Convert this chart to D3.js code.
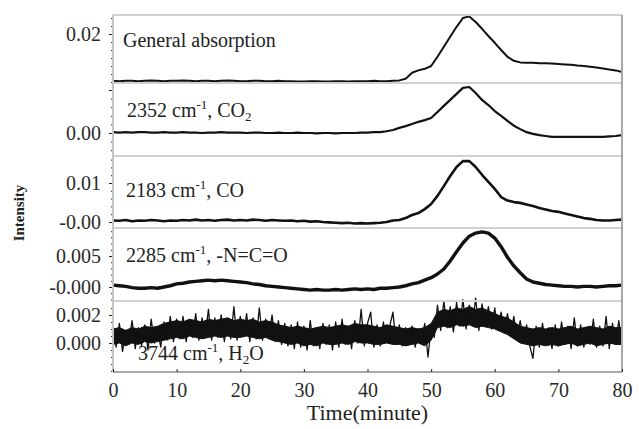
<!DOCTYPE html>
<html>
<head>
<meta charset="utf-8">
<script src="https://cdnjs.cloudflare.com/ajax/libs/d3/7.8.5/d3.min.js"></script>
<style>
body { margin: 0; background: #fff; }
svg { display: block; }
text { font-family: "Liberation Serif", "DejaVu Serif", serif; }
.tick text { fill: #2a2a2a; font-size: 20px; }
.tick line { stroke: #222; }
.domain { display: none; }
.frame { stroke: #c9c9c9; stroke-width: 2; }
.trace { fill: none; stroke: #111; stroke-linejoin: round; }
.band { fill: #111; stroke: #111; stroke-width: 1; }
.label { fill: #222; font-size: 20px; }
</style>
</head>
<body>
<svg class="chart"></svg>
<script>
// values, one per minute (h2o: one per half minute)
var timeTicks = [0, 10, 20, 30, 40, 50, 60, 70, 80];

var genAbs = [
	0.0083,0.0082,0.0083,0.0083,0.0082,0.0083,0.0084,0.0083,0.0082,0.0083,
	0.0083,0.0084,0.0083,0.0082,0.0083,0.0083,0.0082,0.0083,0.0084,0.0083,
	0.0082,0.0082,0.0083,0.0083,0.0082,0.0082,0.0083,0.0082,0.0082,0.0081,
	0.0081,0.0082,0.0082,0.0081,0.0081,0.0082,0.0082,0.0081,0.0082,0.0082,
	0.0082,0.0083,0.0082,0.0082,0.0083,0.0084,0.0088,0.0103,0.0109,0.0113,
	0.0120,0.0143,0.0168,0.0193,0.0218,0.0240,0.0244,0.0230,0.0213,0.0195,
	0.0178,0.0160,0.0143,0.0133,0.0129,0.0128,0.0128,0.0127,0.0127,0.0126,
	0.0125,0.0124,0.0123,0.0121,0.0120,0.0118,0.0116,0.0114,0.0111,0.0109,
	0.0105];

var co2 = [
	0.0002,0.0001,0.0002,0.0001,0.0002,0.0002,0.0001,0.0001,0.0002,0.0001,
	0.0001,0.0002,0.0001,0.0001,0.0000,0.0001,0.0001,0.0002,0.0001,0.0001,
	0.0001,0.0000,0.0001,0.0001,0.0000,0.0000,0.0001,0.0000,0.0000,0.0001,
	0.0000,0.0000,-0.0001,0.0000,0.0000,-0.0001,0.0000,0.0000,0.0000,0.0001,
	0.0001,0.0002,0.0002,0.0004,0.0007,0.0012,0.0016,0.0021,0.0026,0.0030,
	0.0035,0.0049,0.0063,0.0077,0.0091,0.0105,0.0107,0.0093,0.0077,0.0065,
	0.0051,0.0040,0.0028,0.0017,0.0009,0.0002,-0.0002,-0.0005,-0.0007,-0.0009,
	-0.0009,-0.0009,-0.0009,-0.0009,-0.0009,-0.0009,-0.0009,-0.0009,-0.0008,-0.0007,
	-0.0005];

var co = [
	0.0004,0.0003,0.0005,0.0002,0.0004,0.0003,0.0005,0.0004,0.0002,0.0004,
	0.0003,0.0005,0.0004,0.0006,0.0004,0.0005,0.0003,0.0005,0.0006,0.0004,
	0.0005,0.0004,0.0006,0.0005,0.0003,0.0005,0.0004,0.0003,0.0004,0.0002,
	0.0003,0.0001,0.0002,0.0000,-0.0001,-0.0002,-0.0003,-0.0002,-0.0004,-0.0003,
	-0.0004,-0.0003,-0.0002,0.0000,0.0004,0.0005,0.0010,0.0018,0.0023,0.0033,
	0.0046,0.0067,0.0092,0.0118,0.0141,0.0156,0.0156,0.0141,0.0121,0.0103,
	0.0085,0.0064,0.0055,0.0051,0.0049,0.0045,0.0041,0.0036,0.0032,0.0028,
	0.0026,0.0022,0.0018,0.0014,0.0010,0.0008,0.0005,0.0004,0.0004,0.0005,
	0.0006];

var nco = [
	0.0003,0.0002,0.0001,-0.0001,-0.0002,-0.0002,-0.0001,-0.0002,0.0000,0.0002,
	0.0005,0.0006,0.0008,0.0009,0.0010,0.0011,0.0010,0.0011,0.0010,0.0009,
	0.0008,0.0007,0.0005,0.0004,0.0002,0.0001,0.0000,-0.0001,-0.0002,-0.0003,
	-0.0004,-0.0005,-0.0004,-0.0005,-0.0005,-0.0004,-0.0005,-0.0004,-0.0003,-0.0004,
	-0.0003,-0.0004,-0.0002,-0.0002,-0.0001,0.0000,0.0002,0.0005,0.0007,0.0011,
	0.0015,0.0021,0.0029,0.0042,0.0057,0.0071,0.0082,0.0087,0.0089,0.0087,
	0.0079,0.0065,0.0048,0.0034,0.0023,0.0013,0.0008,0.0006,0.0004,0.0003,
	0.0002,0.0001,0.0001,0.0000,0.0001,0.0001,0.0000,0.0001,0.0002,0.0002,
	0.0003];

// h2o spikes, one per half minute
var h2o = [
	0.0012,-0.0003,0.0014,-0.0006,0.0009,0.0001,0.0016,-0.0004,0.0011,-0.0002,
	0.0013,-0.0005,0.0017,0.0000,0.0010,-0.0003,0.0015,0.0002,0.0019,0.0001,
	0.0017,0.0003,0.0019,0.0001,0.0016,0.0004,0.0021,0.0002,0.0018,0.0005,
	0.0024,0.0002,0.0018,0.0004,0.0020,0.0001,0.0017,0.0003,0.0026,0.0002,
	0.0019,0.0005,0.0021,0.0001,0.0018,0.0003,0.0025,0.0002,0.0017,0.0004,
	0.0020,0.0001,0.0016,-0.0001,0.0014,-0.0002,0.0013,-0.0004,0.0015,-0.0003,
	0.0012,-0.0005,0.0016,-0.0002,0.0011,-0.0004,0.0014,-0.0001,0.0013,-0.0005,
	0.0015,-0.0003,0.0017,-0.0001,0.0012,-0.0004,0.0016,0.0000,0.0024,-0.0002,
	0.0014,0.0022,-0.0003,0.0013,-0.0002,0.0015,0.0001,0.0012,0.0022,-0.0001,
	0.0013,-0.0002,0.0011,0.0000,0.0012,-0.0003,0.0010,0.0001,0.0014,-0.0010,
	0.0011,0.0004,0.0027,0.0009,0.0030,0.0011,0.0026,0.0008,0.0029,0.0012,
	0.0031,0.0010,0.0027,0.0013,0.0032,0.0009,0.0028,0.0012,0.0026,0.0010,
	0.0025,0.0009,0.0022,0.0007,0.0021,0.0006,0.0019,0.0003,0.0016,0.0001,
	0.0013,-0.0002,-0.0011,0.0012,-0.0003,0.0014,0.0000,0.0011,-0.0004,0.0013,
	-0.0002,0.0015,-0.0001,0.0012,-0.0004,0.0018,-0.0002,0.0013,-0.0003,0.0011,
	-0.0001,0.0017,-0.0003,0.0012,-0.0002,0.0019,-0.0004,0.0014,-0.0001,0.0016,
	-0.0002];

// dense core of the h2o noise band, one per minute
var h2oUpper = [
	0.0010,0.0011,0.0009,0.0011,0.0010,0.0012,0.0011,0.0012,0.0014,0.0015,
	0.0016,0.0015,0.0017,0.0016,0.0015,0.0017,0.0016,0.0017,0.0018,0.0016,
	0.0017,0.0016,0.0017,0.0015,0.0016,0.0015,0.0013,0.0012,0.0011,0.0012,
	0.0011,0.0010,0.0011,0.0012,0.0011,0.0012,0.0013,0.0012,0.0014,0.0013,
	0.0013,0.0012,0.0011,0.0013,0.0012,0.0011,0.0010,0.0011,0.0010,0.0011,
	0.0014,0.0022,0.0024,0.0023,0.0025,0.0024,0.0026,0.0024,0.0025,0.0023,
	0.0021,0.0019,0.0018,0.0015,0.0012,0.0011,0.0010,0.0011,0.0010,0.0011,
	0.0010,0.0011,0.0012,0.0010,0.0011,0.0012,0.0011,0.0010,0.0012,0.0011,
	0.0011];
var h2oLower = [
	-0.0001,0.0000,-0.0002,0.0000,-0.0001,0.0001,0.0000,0.0001,0.0002,0.0003,
	0.0004,0.0003,0.0005,0.0004,0.0003,0.0004,0.0005,0.0004,0.0005,0.0004,
	0.0004,0.0005,0.0004,0.0003,0.0004,0.0002,0.0001,0.0000,-0.0001,0.0000,
	-0.0002,-0.0001,-0.0002,0.0000,-0.0001,-0.0001,0.0000,-0.0001,0.0001,0.0000,
	0.0000,-0.0001,-0.0001,0.0000,-0.0001,-0.0001,-0.0002,-0.0001,0.0000,-0.0002,
	0.0002,0.0011,0.0012,0.0011,0.0013,0.0012,0.0013,0.0011,0.0012,0.0011,
	0.0010,0.0008,0.0006,0.0003,0.0000,-0.0001,-0.0002,-0.0001,-0.0002,-0.0001,
	-0.0002,-0.0001,0.0000,-0.0002,-0.0001,0.0000,-0.0002,-0.0001,0.0000,-0.0001,
	-0.0001];

// axis settings for each panel, top to bottom
var panels = [
	{ values: genAbs, step: 1, domain: [0.00775, 0.02475], major: [0.02], majorText: ["0.02"], minor: 0.002, width: 2, name: "general" },
	{ values: co2, step: 1, domain: [-0.00535, 0.01163], major: [0.0, 0.01], majorText: ["0.00", ""], minor: 0.002, width: 2.2, name: "co2" },
	{ values: co, step: 1, domain: [-0.00154, 0.01692], major: [0.0, 0.01], majorText: ["-0.00", "0.01"], minor: 0.002, width: 2.6, name: "co" },
	{ values: nco, step: 1, domain: [-0.00226, 0.00952], major: [0.0, 0.005], majorText: ["-0.000", "0.005"], minor: 0.001, width: 3.4, name: "nco" },
	{ values: h2o, step: 0.5, domain: [-0.00207, 0.0030], major: [0.0, 0.002], majorText: ["0.000", "0.002"], minor: 0.0005, width: 1.3, name: "h2o",
	  upper: h2oUpper, lower: h2oLower }
];

var left = 113, right = 622;
var edges = [15, 83, 156, 228, 301, 372];
var serif = "'Liberation Serif', 'DejaVu Serif', serif";

var svg = d3.select(".chart")
	.attr("width", 639)
	.attr("height", 429)
	.attr("font-family", serif);

var x = d3.scaleLinear().domain([0, 80]).range([left, right]);

// draw one panel: minor ticks, labelled ticks, trace
function draw_panel(p, i) {
	var y = d3.scaleLinear()
		.domain(p.domain)
		.range([edges[i + 1], edges[i]]);

	var first = Math.ceil(p.domain[0] / p.minor) * p.minor;
	svg.append("g")
		.attr("transform", "translate(" + left + ",0)")
		.call(d3.axisLeft(y)
			.tickValues(d3.range(first, p.domain[1], p.minor))
			.tickSize(2)
			.tickFormat(""));

	svg.append("g")
		.attr("transform", "translate(" + left + ",0)")
		.call(d3.axisLeft(y)
			.tickValues(p.major)
			.tickSize(4)
			.tickPadding(8)
			.tickFormat(function(d, k) { return p.majorText[k]; }))
		.attr("font-family", serif);

	// noise band core, where the picture is solid black
	if (p.upper) {
		var band = d3.area()
			.x(function(d, k) { return x(k); })
			.y0(function(d, k) { return y(p.lower[k]); })
			.y1(function(d) { return y(d); });
		svg.append("path")
			.datum(p.upper)
			.attr("class", "band")
			.attr("d", band);
	}

	var line = d3.line()
		.x(function(d, k) { return x(k * p.step); })
		.y(function(d) { return y(d); });

	svg.append("path")
		.datum(p.values)
		.attr("class", "trace " + p.name)
		.attr("stroke-width", p.width)
		.attr("d", line);
}

panels.forEach(draw_panel);

// frame and separators
edges.forEach(function(e, i) {
	svg.append("line")
		.attr("class", "frame")
		.attr("x1", left).attr("x2", right)
		.attr("y1", e).attr("y2", e)
		.style("stroke", i == edges.length - 1 ? "#aaa" : "#d0d0d0");
});
svg.append("line").attr("class", "frame")
	.attr("x1", left).attr("x2", left).attr("y1", edges[0]).attr("y2", edges[5])
	.style("stroke", "#c4c4c4");
svg.append("line").attr("class", "frame")
	.attr("x1", right).attr("x2", right).attr("y1", edges[0]).attr("y2", edges[5])
	.style("stroke", "#a8a8a8");

// bottom axis
svg.append("g")
	.attr("transform", "translate(0," + edges[5] + ")")
	.call(d3.axisBottom(x)
		.tickValues(timeTicks)
		.tickSizeInner(-3)
		.tickSizeOuter(0)
		.tickPadding(11))
	.attr("font-family", serif);

svg.append("text")
	.attr("x", (left + right) / 2)
	.attr("y", 420)
	.attr("text-anchor", "middle")
	.attr("fill", "#222")
	.style("font-size", "22px")
	.text("Time(minute)");

svg.append("text")
	.attr("transform", "translate(24,213) rotate(-90)")
	.attr("text-anchor", "middle")
	.attr("fill", "#222")
	.style("font-size", "15px")
	.style("font-weight", "bold")
	.text("Intensity");

// panel labels
var labels = [
	{ x: 123, y: 47, parts: [["General absorption", ""]] },
	{ x: 127, y: 117, parts: [["2352 cm", ""], ["-1", "sup"], [", CO", ""], ["2", "sub"]] },
	{ x: 126, y: 197, parts: [["2183 cm", ""], ["-1", "sup"], [", CO", ""]] },
	{ x: 126, y: 262, parts: [["2285 cm", ""], ["-1", "sup"], [", -N=C=O", ""]] },
	{ x: 138, y: 360, parts: [["3744 cm", ""], ["-1", "sup"], [", H", ""], ["2", "sub"], ["O", ""]] }
];

labels.forEach(function(l) {
	var t = svg.append("text")
		.attr("class", "label")
		.attr("x", l.x)
		.attr("y", l.y);
	var shift = 0;
	l.parts.forEach(function(part) {
		var want = part[1] == "sup" ? -8 : (part[1] == "sub" ? 4 : 0);
		t.append("tspan")
			.attr("dy", want - shift)
			.style("font-size", part[1] ? "13px" : "20px")
			.text(part[0]);
		shift = want;
	});
});
</script>
</body>
</html>
